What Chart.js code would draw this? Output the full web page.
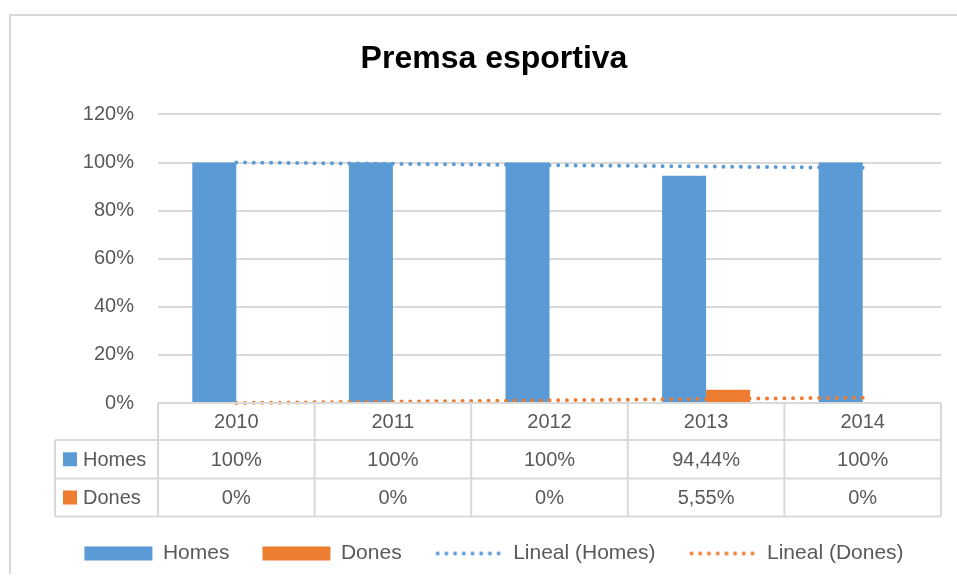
<!DOCTYPE html>
<html>
<head>
<meta charset="utf-8">
<script src="https://cdn.jsdelivr.net/npm/chart.js@4.4.0/dist/chart.umd.min.js"></script>
<style>
  html, body { margin: 0; padding: 0; background: #fff; overflow: hidden; }
  #frame {
    position: absolute; left: 9px; top: 14px;
    border-left: 2px solid #D9D9D9; border-top: 2px solid #D9D9D9;
    width: 966px; height: 558px;
  }
  canvas { display: block; }
</style>
</head>
<body>
<div id="frame"><canvas id="chart" width="966" height="558"></canvas></div>
<script>
  // Dades
  const years = ['2010', '2011', '2012', '2013', '2014'];
  const homes = [100, 100, 100, 94.44, 100];
  const dones = [0, 0, 0, 5.55, 0];
  // línies de tendència (lineal), llegides del gràfic
  const homesTrend = [100, 99.44, 98.89, 98.33, 97.78];
  const donesTrend = [0, 0.56, 1.11, 1.67, 2.22];
  const yTicks = [0, 20, 40, 60, 80, 100, 120];

  const BLUE = '#5B9BD5';
  const ORANGE = '#ED7D31';
  const GRID = '#D9D9D9';
  const TEXT = '#595959';
  const FONT = '"Liberation Sans", Arial, sans-serif';

  const fmt = v => String(v).replace('.', ',') + '%';

  // icona de línia de punts per a la llegenda
  function dottedIcon(color) {
    const c = document.createElement('canvas');
    c.width = 68; c.height = 8;
    const g = c.getContext('2d');
    g.fillStyle = color;
    for (let i = 0; i < 8; i++) {
      g.beginPath();
      g.arc(3 + i * 8.7, 4, 2, 0, Math.PI * 2);
      g.fill();
    }
    return c;
  }

  // taula de dades sota l'eix X
  const dataTable = {
    id: 'dataTable',
    afterDraw(chart) {
      const ctx = chart.ctx;
      const area = chart.chartArea;
      const x = chart.scales.x;
      const top = area.bottom;
      const rows = [top, top + 37, top + 75.5, top + 113.5];
      const colW = (area.right - area.left) / years.length;
      const leftCol = 44;

      ctx.save();
      ctx.strokeStyle = GRID;
      ctx.lineWidth = 2;
      ctx.beginPath();
      // horitzontals
      ctx.moveTo(area.left, rows[0]); ctx.lineTo(area.right, rows[0]);
      for (let r = 1; r < rows.length; r++) {
        ctx.moveTo(leftCol, rows[r]); ctx.lineTo(area.right, rows[r]);
      }
      // verticals
      for (let i = 0; i <= years.length; i++) {
        const xx = area.left + i * colW;
        ctx.moveTo(xx, rows[0]); ctx.lineTo(xx, rows[3]);
      }
      ctx.moveTo(leftCol, rows[1]); ctx.lineTo(leftCol, rows[3]);
      ctx.stroke();

      ctx.fillStyle = TEXT;
      ctx.font = '20px ' + FONT;
      ctx.textAlign = 'center';
      ctx.textBaseline = 'middle';
      years.forEach((yr, i) => {
        const cx = x.getPixelForValue(i);
        ctx.fillText(yr, cx, (rows[0] + rows[1]) / 2 + 1);
        ctx.fillText(fmt(homes[i]), cx, (rows[1] + rows[2]) / 2 + 1);
        ctx.fillText(fmt(dones[i]), cx, (rows[2] + rows[3]) / 2 + 1);
      });

      // claus de sèrie a la primera columna
      const series = [['Homes', BLUE, 1], ['Dones', ORANGE, 2]];
      ctx.textAlign = 'left';
      series.forEach(([name, color, r]) => {
        const cy = (rows[r] + rows[r + 1]) / 2;
        ctx.fillStyle = color;
        ctx.fillRect(52, cy - 7, 14, 14);
        ctx.fillStyle = TEXT;
        ctx.fillText(name, 72, cy + 1);
      });
      ctx.restore();
    }
  };

  new Chart(document.getElementById('chart'), {
    data: {
      labels: years,
      datasets: [
        {
          type: 'bar',
          label: 'Homes',
          data: homes,
          backgroundColor: BLUE,
          borderWidth: 0,
          pointStyle: 'rect',
          barPercentage: 1,
          categoryPercentage: 0.562,
          order: 1
        },
        {
          type: 'bar',
          label: 'Dones',
          data: dones,
          backgroundColor: ORANGE,
          borderWidth: 0,
          pointStyle: 'rect',
          barPercentage: 1,
          categoryPercentage: 0.562,
          order: 1
        },
        {
          type: 'line',
          label: 'Lineal (Homes)',
          data: homesTrend,
          borderColor: BLUE,
          backgroundColor: BLUE,
          borderWidth: 4,
          borderDash: [0, 8.7],
          borderCapStyle: 'round',
          pointRadius: 0,
          pointStyle: dottedIcon(BLUE),
          fill: false,
          clip: false,
          tension: 0,
          order: 0
        },
        {
          type: 'line',
          label: 'Lineal (Dones)',
          data: donesTrend,
          borderColor: ORANGE,
          backgroundColor: ORANGE,
          borderWidth: 4,
          borderDash: [0, 8.7],
          borderCapStyle: 'round',
          pointRadius: 0,
          pointStyle: dottedIcon(ORANGE),
          fill: false,
          clip: false,
          tension: 0,
          order: 0
        }
      ]
    },
    options: {
      responsive: false,
      animation: false,
      layout: { padding: 0 },
      plugins: {
        title: {
          display: true,
          text: 'Premsa esportiva',
          color: '#000',
          font: { family: FONT, size: 32, weight: 'bold' },
          padding: { top: 24, bottom: 36 }
        },
        legend: {
          position: 'bottom',
          labels: {
            sort: (a, b) => a.datasetIndex - b.datasetIndex,
            usePointStyle: true,
            pointStyleWidth: 68,
            boxHeight: 14,
            padding: 33,
            color: TEXT,
            font: { family: FONT, size: 21 }
          }
        },
        tooltip: { enabled: false }
      },
      scales: {
        x: {
          type: 'category',
          grid: { display: false },
          border: { display: false },
          ticks: { display: false },
          afterFit: s => { s.height = 107; }
        },
        y: {
          min: 0,
          max: 120,
          afterBuildTicks: s => { s.ticks = yTicks.map(v => ({ value: v })); },
          grid: { color: GRID, lineWidth: 2, drawTicks: false },
          border: { display: false },
          ticks: {
            padding: 24,
            color: TEXT,
            font: { family: FONT, size: 20 },
            callback: v => v + '%'
          },
          afterFit: s => { s.width = 147; }
        },
        // eix buit per deixar marge a la dreta
        yRight: {
          position: 'right',
          min: 0,
          max: 120,
          grid: { display: false },
          border: { display: false },
          ticks: { display: false },
          afterFit: s => { s.width = 36; }
        }
      }
    },
    plugins: [dataTable]
  });
</script>
</body>
</html>
